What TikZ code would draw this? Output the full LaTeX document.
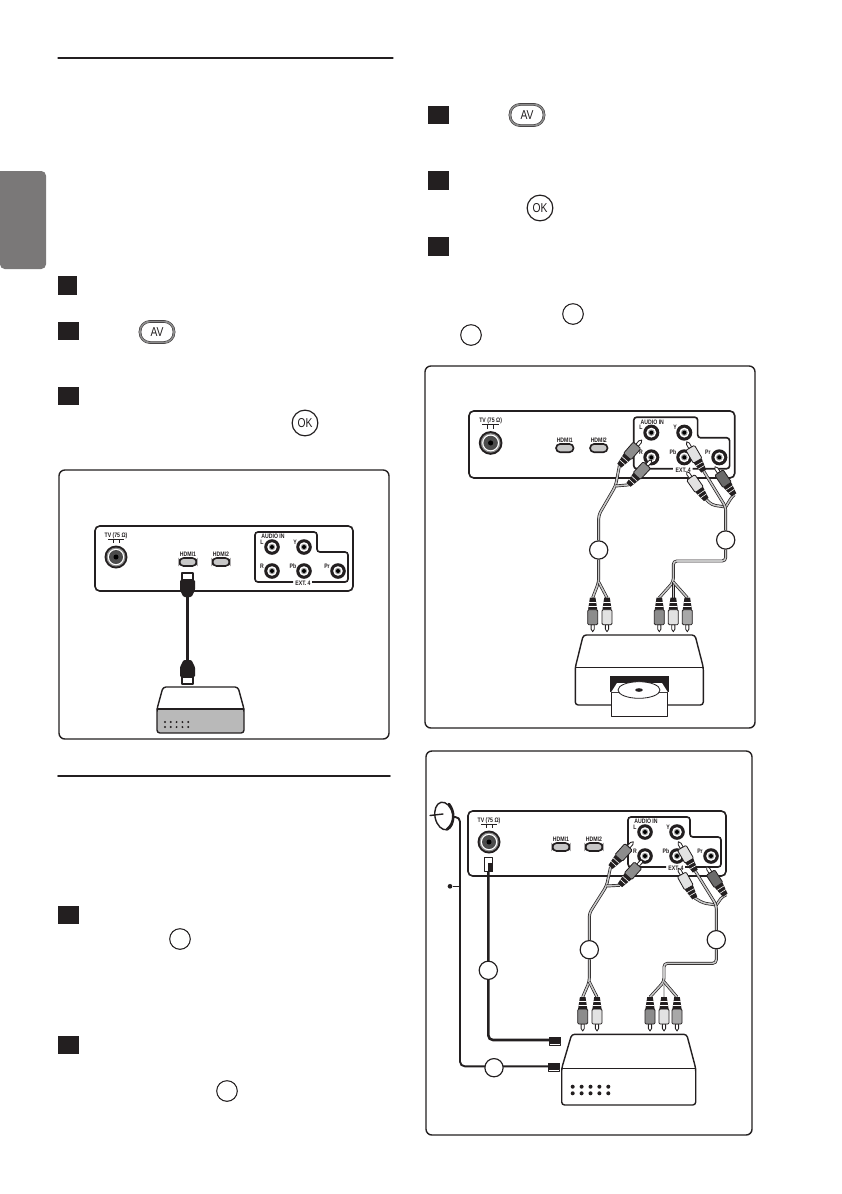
\documentclass[tikz,border=0pt]{standalone}
\usepackage{fontspec}
\usepackage{xcolor}
\usepackage{tikz}
\usetikzlibrary{
    backgrounds,
    calc
}
\newfontfamily\labelfont[FakeStretch=0.8]{Liberation Sans}
\definecolor{ink}    {HTML}{231F20}
\definecolor{tabgrey}{HTML}{7A7878}
\definecolor{plugA}  {HTML}{8C8C8C}
\definecolor{plugB}  {HTML}{E2E2E2}
\definecolor{plugC}  {HTML}{A8A8A8}
\definecolor{plugD}  {HTML}{6A6A6A}
\definecolor{boxgrey}{HTML}{B9B9B9}
\pgfdeclarelayer{cable}
\pgfsetlayers{background,cable,main}

\tikzset{
    panelline/.style = {draw=ink, line width=1.4pt},
    panellabel/.style = {inner sep=0pt, text=ink, font=\fontsize{5.5}{6}\labelfont\bfseries},
    pics/tvpanel/.style = {code={
        \draw[panelline, fill=white, rounded corners=4] (0,0) rectangle (258,65);
        \node[panellabel] (-tv) at (21,10) {TV (75 Ω)};
        \draw[draw=ink, line width=0.8pt] (13,13.5) -- (29,13.5) (18,13.5) -- (18,17) (24,13.5) -- (24,17);
        % aerial socket
        \fill[ink] (21,31) circle (11.5);
        \fill[black!45] (21,31) circle (9.5);
        \fill[white] (21,31) circle (8.2);
        \fill[black!70] (21,31) circle (7);
        \fill[black] (21,31) circle (2.5);
        % hdmi sockets
        \foreach \X/\T in {93/HDMI1, 126/HDMI2}{
            \node[panellabel] (-\T) at (\X,28) {\T};
            \draw[panelline, fill=black!22, rounded corners=3.5] (\X-8.5,32) rectangle (\X+8.5,40);
        }
        % ext 4 outline
        \draw[panelline, rounded corners=2.5] (198,56) -- (160,56) -- (160,6) -- (222,6)
            -- (222,26) -- (253,26) -- (253,56) -- (217,56);
        \node[panellabel] (-audio) at (178,10.5) {AUDIO IN};
        \node[panellabel] (-ext) at (208,57.5) {EXT. 4};
        % rca jacks
        \foreach \X/\Y in {177/21, 209/21, 177/45, 209/45, 243/45}{
            \fill[ink] (\X,\Y) circle (7.8);
            \fill[white] (\X,\Y) circle (4.8);
            \fill[black!40] (\X,\Y) circle (3.2);
            \fill[black] (\X,\Y) circle (2);
        }
        \foreach \X/\Y/\T in {167/16/L, 167/40/R, 200/16/Y, 198/40/Pb, 232/40/Pr}
            \node[panellabel] (-\T) at (\X,\Y) {\T};
    }},
    % origin is the tip, tail lies 34 above it
    pics/rcaplug/.style = {code={
        \draw[draw=ink, line width=0.7pt, fill=white] (0,0) -- (1.6,-2.5) -- (1.6,-7)
            -- (-1.6,-7) -- (-1.6,-2.5) -- cycle;
        \draw[draw=ink, line width=0.7pt, fill=#1, rounded corners=1] (-5,-7) rectangle (5,-22);
        \fill[ink] (-4.6,-22) -- (4.6,-22) -- (2.8,-34) -- (-2.8,-34) -- cycle;
        \draw[draw=white, line width=0.5pt] (-4,-25.5) -- (4,-25.5) (-3.5,-29.5) -- (3.5,-29.5);
        \coordinate (-tail) at (0,-34);
    }},
    pics/hdmiplug/.style = {code={
        \draw[draw=ink, line width=0.9pt, fill=white] (-5.5,0) rectangle (5.5,-7);
        \fill[ink, rounded corners=1] (-7.5,-7) -- (7.5,-7) -- (7.5,-17) -- (4,-24) -- (-4,-24) -- (-7.5,-17) -- cycle;
        \coordinate (-tail) at (0,-24);
    }},
    pics/fplug/.style = {code={
        \fill[ink] (0,-3) rectangle (11.5,3);
        \draw[draw=ink, line width=0.6pt, fill=white] (0,3) rectangle (11.5,#1);
        \coordinate (-tail) at (0,0);
    }}
}

\begin{document}
\begin{tikzpicture}[
    x=0.03cm, y=-0.03cm,
    line cap=round, line join=round,
    %% --- semantic styles ---
    stepbox/.style    = {rectangle, fill=ink, inner sep=0pt,
                         minimum width=17.9pt, minimum height=15.5pt},
    framebox/.style   = {draw=ink, line width=1.2pt, rounded corners=5},
    numcircle/.style  = {circle, draw=ink, fill=white, line width=0.9pt,
                         inner sep=0pt, minimum size=17.6pt},
    tagcircle/.style  = {circle, draw=ink, fill=white, line width=1pt,
                         inner sep=0pt, minimum size=15.6pt},
    avbutton/.style   = {rectangle, draw=ink, fill=white, line width=0.35pt,
                         double=black!45, double distance=1.5pt,
                         rounded corners=8.5, inner sep=0pt,
                         minimum width=29pt, minimum height=18pt,
                         font=\fontsize{11}{12}\labelfont, text=ink},
    okbutton/.style   = {circle, draw=ink, fill=white, line width=1pt,
                         inner sep=0pt, minimum size=22pt,
                         font=\fontsize{11}{12}\labelfont, text=ink},
    rcacable/.style   = {draw=ink, line width=0.6pt, double=black!22,
                         double distance=1.3pt, rounded corners=3},
    blackcable/.style = {draw=ink, line width=2.2pt, rounded corners=4},
    devicebox/.style  = {draw=ink, line width=1.2pt, rounded corners=2.5}
]

\begin{scope}[on background layer]
    \path[use as bounding box, fill=white] (0,0) rectangle (842,1194);
\end{scope}

%% =====================================================
%% LEFT COLUMN — rules, tab, steps and buttons
%% =====================================================
\draw[draw=ink, line width=0.9pt] (58,58) -- (393,58);
\draw[draw=ink, line width=1.3pt] (58,776) -- (390,776);
\fill[tabgrey, rounded corners=4] (0,171) -- (46,171) -- (46,269) -- (0,269) [sharp corners] -- cycle;

\node[stepbox, minimum width=16.2pt, minimum height=16.2pt] (SA) at (67.5,285.5) {};
\node[stepbox] (SB) at (68.5,331) {};
\node[stepbox] (SC) at (68.5,396) {};
\node[stepbox] (SD) at (68.5,915) {};
\node[stepbox] (SE) at (68.5,1045) {};

\node[avbutton] (AVA) at (157,332) {AV};
\node[okbutton] (OKA) at (305,423) {OK};
\node[numcircle] (TA) at (180,939) {};
\node[numcircle] (TB) at (227,1091) {};

%% =====================================================
%% RIGHT COLUMN — steps and buttons
%% =====================================================
\node[stepbox] (SF) at (438.5,115) {};
\node[stepbox] (SG) at (438.5,180.5) {};
\node[stepbox] (SH) at (438.5,246.5) {};

\node[avbutton] (AVB) at (527,115) {AV};
\node[okbutton] (OKB) at (540,208) {OK};
\node[numcircle] (TC) at (573,314) {};
\node[numcircle] (TD) at (471,335) {};

%% =====================================================
%% PANEL ONE — hdmi cable to a box
%% =====================================================
\begin{scope}[on background layer]
    \draw[framebox] (59,470) rectangle (389,739);
    \pic (TVA) at (95,526) {tvpanel};
\end{scope}

\pic (HA) [rotate=180] at (187.5,573) {hdmiplug};
\pic (HB) at (187.5,684) {hdmiplug};
\begin{pgfonlayer}{cable}
    \draw[blackcable] (HA-tail) -- (HB-tail);
\end{pgfonlayer}

\fill[boxgrey] (157,709) rectangle (244,733);
\draw[devicebox] (157,709) -- (163,687) -- (238,687) -- (244,709) -- (244,733) -- (157,733) -- cycle;
\draw[draw=ink, line width=1pt] (157,709) -- (244,709);
\foreach \X in {165,170.8,176.6,182.4,188.2}
    \foreach \Y in {722,727}
        \fill[ink] (\X,\Y) circle (1.1);

%% =====================================================
%% PANEL TWO — rca cables to a disc player
%% =====================================================
\begin{scope}[on background layer]
    \draw[framebox] (425,366) rectangle (755,728);
    \pic (TVB) [scale=1.03] at (469,411) {tvpanel};
\end{scope}

% plugs at the set
\pic (BL) [rotate=139] at (641.7,440) {rcaplug=plugA};
\pic (BR) [rotate=137] at (651.7,460) {rcaplug=plugA};
\pic (BY) [rotate=210] at (686.7,441.7) {rcaplug=plugB};
\pic (BB) [rotate=215] at (686.7,471.7) {rcaplug=plugB};
\pic (BP) [rotate=214] at (715,466.7) {rcaplug=plugD};
% plugs at the player
\foreach \N/\X/\C in {DA/592.7/plugA, DB/607/plugB, DC/659.3/plugA, DD/673.3/plugB, DE/687.3/plugC}
    \pic (\N) at (\X,631.7) {rcaplug=\C};

\node[tagcircle] (CA) at (598.7,550) {};
\node[tagcircle] (CB) at (725.7,540) {};

\coordinate (BLa) at (598.7,515);
\coordinate (BLb) at (615.5,486);
\coordinate (BLc) at (598.7,582);
\coordinate (BJa) at (725.7,507);
\coordinate (BJb) at (725.7,561);
\coordinate (BJc) at (673.3,561);
\coordinate (BJd) at (673.3,582);
\coordinate (BBa) at (712,505);

\begin{pgfonlayer}{cable}
    \draw[rcacable] (CA) -- (BLa) -- (BLb) -- (BL-tail);
    \draw[rcacable] (BLb) -- (BR-tail);
    \draw[rcacable] (CA) -- (BLc) -- (DA-tail);
    \draw[rcacable] (BLc) -- (DB-tail);
    \draw[rcacable] (BB-tail) -- (BBa) -- (BJa);
    \draw[rcacable] (BP-tail) -- (731.7,497) -- (BJa);
    \draw[rcacable] (BY-tail) -- (BJa) -- (CB);
    \draw[rcacable] (CB) -- (BJb) -- (BJc) -- (BJd) -- (DC-tail);
    \draw[rcacable] (BJd) -- (DD-tail);
    \draw[rcacable] (BJd) -- (DE-tail);
\end{pgfonlayer}

% disc player
\draw[devicebox] (575.3,667.3) -- (583.3,635) -- (695,635) -- (703.3,667.3) -- (703.3,705) -- (575.3,705) -- cycle;
\draw[draw=ink, line width=1pt] (575.3,667.3) -- (703.3,667.3);
\fill[ink] (610,676) rectangle (669,692);
\draw[draw=ink, line width=0.9pt, fill=white] (611.3,692) rectangle (667.7,716.7);
\fill[white] (611.3,692) -- (617,683) -- (662,683) -- (667.7,692) -- cycle;
\draw[draw=ink, line width=0.7pt, fill=white] (639,690) ellipse [x radius=21, y radius=8.3];
\fill[ink] (639,690) ellipse [x radius=3.8, y radius=1.8];

%% =====================================================
%% PANEL THREE — dish, aerial leads and rca cables to a box
%% =====================================================
\begin{scope}[on background layer]
    \draw[framebox] (426,751) rectangle (752,1135);
    \pic (TVC) at (468,811) {tvpanel};
\end{scope}

\pic (FL) [rotate=138] at (633.3,841.7) {rcaplug=plugA};
\pic (FR) [rotate=138] at (642.7,860) {rcaplug=plugA};
\pic (FY) [rotate=210] at (678.3,841.7) {rcaplug=plugB};
\pic (FB) [rotate=209] at (678.3,868.3) {rcaplug=plugB};
\pic (FP) [rotate=213] at (706.7,866.7) {rcaplug=plugD};
\foreach \N/\X/\C in {GA/582.7/plugA, GB/597/plugB, GC/650/plugA, GD/664/plugB, GE/677/plugC}
    \pic (\N) at (\X,1031) {rcaplug=\C};

\node[tagcircle] (CC) at (589.3,949.7) {};
\node[tagcircle] (CD) at (716.3,939.7) {};
\node[tagcircle] (CE) at (488.3,970.3) {};
\node[tagcircle] (CF) at (494,1067.7) {};

\coordinate (FLa) at (589.3,913.3);
\coordinate (FLb) at (606.5,886);
\coordinate (FLc) at (589.3,981.7);
\coordinate (FJa) at (716.3,905);
\coordinate (FJb) at (716.3,963.3);
\coordinate (FJc) at (664,963.3);
\coordinate (FJd) at (664,981.7);
\coordinate (FBa) at (703,903);

\begin{pgfonlayer}{cable}
    \draw[rcacable] (CC) -- (FLa) -- (FLb) -- (FL-tail);
    \draw[rcacable] (FLb) -- (FR-tail);
    \draw[rcacable] (CC) -- (FLc) -- (GA-tail);
    \draw[rcacable] (FLc) -- (GB-tail);
    \draw[rcacable] (FB-tail) -- (FBa) -- (FJa);
    \draw[rcacable] (FP-tail) -- (722.7,896) -- (FJa);
    \draw[rcacable] (FY-tail) -- (FJa) -- (CD);
    \draw[rcacable] (CD) -- (FJb) -- (FJc) -- (FJd) -- (GC-tail);
    \draw[rcacable] (FJd) -- (GD-tail);
    \draw[rcacable] (FJd) -- (GE-tail);
\end{pgfonlayer}

% aerial lead from the set to the box
\draw[draw=ink, line width=0.8pt, fill=white] (484,857) rectangle (492.7,871.7);
\fill[ink] (488.3,863) rectangle (492.7,872);
\coordinate (ALa) at (488.3,872);
\coordinate (ALb) at (488.3,1040);
\pic (PA) at (549,1040) {fplug=5.7};
\pic (PB) at (548.3,1066.3) {fplug=5.4};
\begin{pgfonlayer}{cable}
    \draw[blackcable] (ALa) -- (ALb) -- (PA-tail);
\end{pgfonlayer}

% dish and its lead
\coordinate (DSa) at (452,817);
\coordinate (DSb) at (460,817);
\coordinate (DSc) at (460,1066.3);
\coordinate (DTa) at (460,886.3);
\node[circle, fill=ink, inner sep=0pt, minimum size=4pt] (DTb) at (450,886.3) {};
\draw[draw=ink, line width=1.2pt, fill=white] (444,816) ellipse [x radius=9, y radius=14, rotate=12];
\draw[draw=ink, line width=2.2pt] (449,804) .. controls (455,812) and (455,823) .. (447,829.5);
\draw[draw=ink, line width=1.2pt] (430,815.5) -- (443,814);
\begin{pgfonlayer}{cable}
    \draw[blackcable, line width=1.6pt] (DSa) -- (DSb) -- (DSc) -- (PB-tail);
    \draw[draw=ink, line width=1.2pt] (DTb) -- (DTa);
\end{pgfonlayer}

% box
\draw[devicebox] (561.7,1068.3) -- (571.7,1034.3) -- (686.7,1034.3) -- (695.7,1068.3) -- (695.7,1105) -- (561.7,1105) -- cycle;
\draw[draw=ink, line width=1pt] (561.7,1068.3) -- (695.7,1068.3);
\foreach \X in {572.7,581.6,590.5,599.4,608.3}
    \foreach \Y in {1086.7,1093.3}
        \fill[ink] (\X,\Y) circle (2);

\end{tikzpicture}
\end{document}
